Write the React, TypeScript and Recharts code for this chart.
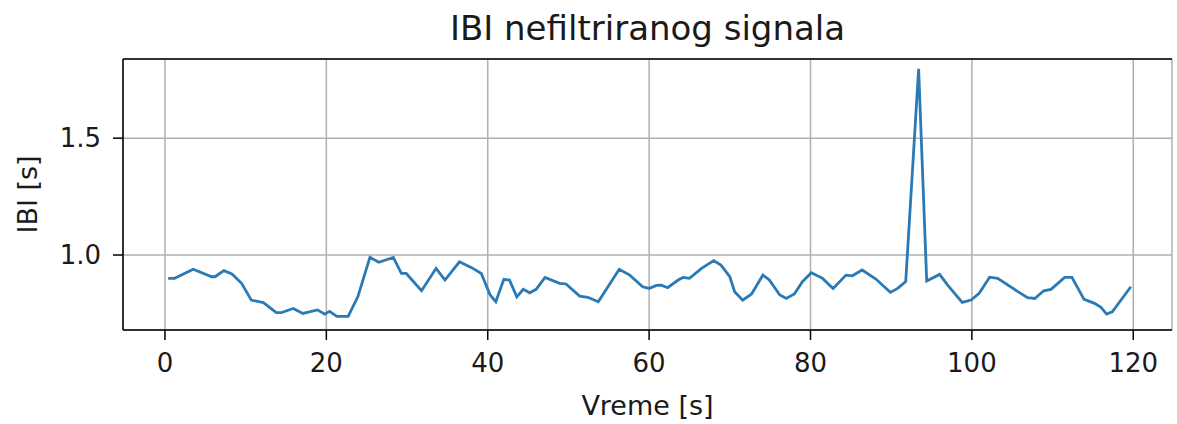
import React from "react";
import {
  LineChart,
  Line,
  XAxis,
  YAxis,
  CartesianGrid,
} from "recharts";

// beat times [s] and inter-beat intervals [s]
const time = [
  0.4, 1.2, 3.5, 5.8, 6.2, 7.3, 8.3, 9.5, 10.7, 12.2, 13.8, 14.4, 15.9, 17.1,
  18.9, 19.8, 20.4, 21.3, 22.7, 23.9, 25.4, 26.5, 28.3, 29.3, 29.9, 31.8, 33.6,
  34.7, 36.5, 38.0, 39.2, 40.3, 41.0, 42.0, 42.7, 43.6, 44.4, 45.2, 46.0, 47.1,
  48.9, 49.7, 51.4, 52.4, 53.7, 54.5, 56.3, 57.6, 59.2, 60.0, 60.9, 61.5, 62.3,
  63.6, 64.2, 65.0, 66.5, 68.0, 68.9, 70.0, 70.6, 71.6, 72.7, 74.1, 74.9, 76.2,
  77.0, 78.0, 79.0, 80.1, 81.5, 82.8, 84.4, 85.2, 86.4, 88.1, 89.9, 90.8, 91.8,
  93.4, 94.4, 96.0, 97.0, 98.8, 99.9, 100.9, 102.2, 103.2, 105.7, 106.9, 107.8,
  108.9, 109.8, 111.5, 112.4, 113.9, 115.2, 116.0, 116.7, 117.4, 119.7,
];
const ibi = [
  0.9, 0.9, 0.939, 0.907, 0.907, 0.933, 0.919, 0.879, 0.807, 0.796, 0.753,
  0.753, 0.771, 0.75, 0.765, 0.747, 0.759, 0.737, 0.737, 0.821, 0.99, 0.969,
  0.99, 0.921, 0.921, 0.847, 0.943, 0.893, 0.971, 0.946, 0.921, 0.829, 0.8,
  0.896, 0.893, 0.821, 0.853, 0.838, 0.853, 0.904, 0.879, 0.876, 0.824, 0.819,
  0.8, 0.843, 0.939, 0.914, 0.864, 0.857, 0.87, 0.871, 0.86, 0.893, 0.904, 0.9,
  0.943, 0.976, 0.957, 0.907, 0.843, 0.807, 0.833, 0.914, 0.893, 0.829, 0.814,
  0.833, 0.886, 0.924, 0.9, 0.857, 0.914, 0.911, 0.936, 0.897, 0.84, 0.857,
  0.886, 1.797, 0.889, 0.917, 0.871, 0.797, 0.807, 0.836, 0.905, 0.9, 0.843,
  0.817, 0.814, 0.847, 0.853, 0.904, 0.904, 0.81, 0.793, 0.776, 0.747, 0.757,
  0.864,
];
const xTicks = [0, 20, 40, 60, 80, 100, 120];
const yTicks = [1.0, 1.5];

const data = time.map((t, i) => ({ t, ibi: ibi[i] }));

const font = "DejaVu Sans, sans-serif";
const txt = "#1a1a1a";

const App = () => {
  return (
    <div style={{ position: "absolute", left: 0, top: 0, background: "#fff" }}>
      <LineChart
        width={1177}
        height={424}
        data={data}
        margin={{ top: 0, right: 5, bottom: 0, left: 0 }}
      >
        <CartesianGrid stroke="#b0b0b0" strokeWidth={1.5} />
        <XAxis
          dataKey="t"
          type="number"
          domain={[-5.2, 124.8]}
          ticks={xTicks}
          allowDataOverflow
          height={94}
          tickSize={10}
          tickMargin={14}
          axisLine={{ stroke: "#000", strokeWidth: 1.5 }}
          tickLine={{ stroke: "#000", strokeWidth: 1.5 }}
          tick={{ fill: txt, fontSize: 26, fontFamily: font }}
          label={{
            content: (p: any) => (
              <text
                x={p.viewBox.x + p.viewBox.width / 2}
                y={405}
                textAnchor="middle"
                dominantBaseline="central"
                fontSize={27}
                fontFamily={font}
                fill={txt}
              >
                Vreme [s]
              </text>
            ),
          }}
        />
        <XAxis
          xAxisId="top"
          orientation="top"
          dataKey="t"
          type="number"
          domain={[-5.2, 124.8]}
          height={59}
          tick={false}
          tickLine={false}
          axisLine={{ stroke: "#000", strokeWidth: 1.5 }}
          label={{
            content: (p: any) => (
              <text
                x={p.viewBox.x + p.viewBox.width / 2}
                y={28}
                textAnchor="middle"
                dominantBaseline="central"
                fontSize={34}
                fontFamily={font}
                fill={txt}
              >
                IBI nefiltriranog signala
              </text>
            ),
          }}
        />
        <YAxis
          type="number"
          domain={[0.679, 1.839]}
          ticks={yTicks}
          allowDataOverflow
          width={123}
          tickSize={10}
          tickMargin={12}
          tickFormatter={(v: number) => v.toFixed(1)}
          axisLine={{ stroke: "#000", strokeWidth: 1.5 }}
          tickLine={{ stroke: "#000", strokeWidth: 1.5 }}
          tick={{ fill: txt, fontSize: 26, fontFamily: font }}
          label={{
            content: (p: any) => {
              const cy = p.viewBox.y + p.viewBox.height / 2;
              return (
                <text
                  x={27}
                  y={cy}
                  transform={`rotate(-90, 27, ${cy})`}
                  textAnchor="middle"
                  dominantBaseline="central"
                  fontSize={27}
                  fontFamily={font}
                  fill={txt}
                >
                  IBI [s]
                </text>
              );
            },
          }}
        />
        <YAxis
          yAxisId="right"
          orientation="right"
          domain={[0.679, 1.839]}
          width={0}
          tick={false}
          tickLine={false}
          axisLine={{ stroke: "#000", strokeWidth: 1.5 }}
        />
        <Line
          type="linear"
          dataKey="ibi"
          stroke="#2a7ab5"
          strokeWidth={2.8}
          dot={false}
          isAnimationActive={false}
        />
      </LineChart>
    </div>
  );
};

export default App;
